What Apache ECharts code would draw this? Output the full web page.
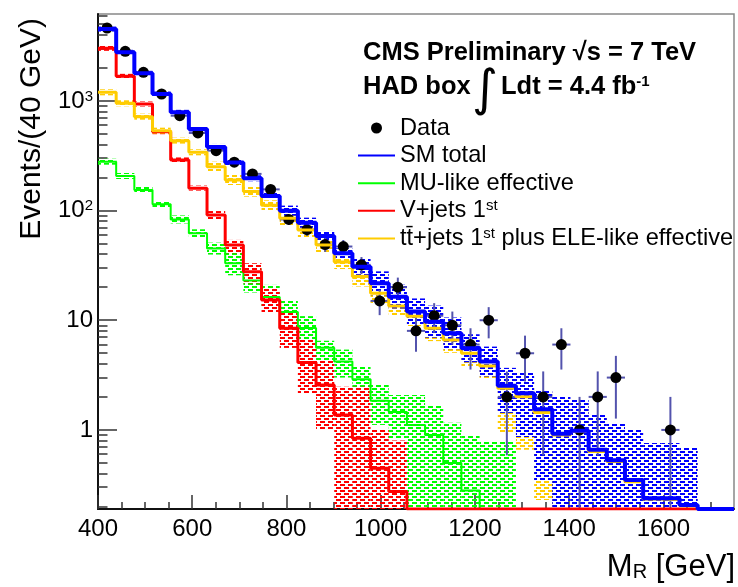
<!DOCTYPE html>
<html>
<head>
<meta charset="UTF-8">
<title>M_R distribution, HAD box</title>
<script src="https://cdn.jsdelivr.net/npm/echarts@6/dist/echarts.min.js"></script>
<style>
  html, body { margin: 0; padding: 0; background: #fff; }
  #chart { width: 738px; height: 587px; }
</style>
</head>
<body>
<div id="chart"></div>
<script>
// 35 bins between 400 and 1750 GeV
const xMin = 400, xMax = 1750, nBins = 35;
const YMIN = 0.19, YMAX = 6200;

const binEdges = [];
for (let k = 0; k <= nBins; k++) binEdges.push(xMin + k * (xMax - xMin) / nBins);
const binCenters = binEdges.slice(0, nBins).map((e, k) => (e + binEdges[k + 1]) / 2);

// tick positions
const xMajor = [400, 600, 800, 1000, 1200, 1400, 1600];
const xMinor = [450, 500, 550, 650, 700, 750, 850, 900, 950, 1050, 1100, 1150,
                1250, 1300, 1350, 1450, 1500, 1550, 1650, 1700];
const yMajor = [1, 10, 100, 1000];
const yMinor = [0.2, 0.3, 0.4, 0.5, 0.6, 0.7, 0.8, 0.9, 2, 3, 4, 5, 6, 7, 8, 9,
                20, 30, 40, 50, 60, 70, 80, 90, 200, 300, 400, 500, 600, 700, 800, 900,
                2000, 3000, 4000, 5000, 6000];

// observed events per bin
const dataCounts = [4620, 2832, 1823, 1156, 733, 510, 352, 276, 216, 156, 83, 67, 49, 47, 32,
                    15, 20, 8, 11, 9, 6, 10, 2, 5, 2, 6, 1, 2, 3, 0, 0, 1, 0, 0, 0];

// SM total
const smTotal = [4520, 2774, 1785, 1156, 787, 554, 380, 274, 197, 136, 99.8, 77.6, 58.7, 40.8, 30.8,
                 21.7, 16.4, 12.0, 9.71, 7.61, 5.55, 4.20, 2.53, 2.16, 1.54, 0.92, 0.98, 0.66, 0.53,
                 0.35, 0.238, 0.238, 0.207, 0, 0];
const smHi = [4764, 2924, 1881, 1218, 829, 584, 405, 292, 210, 145, 111, 86.2, 65.2, 45.3, 36.4,
              27.9, 21.1, 15.8, 13.6, 10.6, 7.45, 5.75, 3.68, 3.31, 2.31, 2.0, 1.88, 1.37, 1.13,
              1.0, 0.76, 0.76, 0.69, 0, 0];
const smLo = [4288, 2632, 1694, 1097, 747, 526, 357, 257, 185, 128, 89.8, 69.8, 52.8, 36.7, 26.0,
              16.9, 12.8, 9.13, 6.94, 5.44, 4.14, 3.07, 1.43, 0.86, 0.35, 0, 0, 0, 0,
              0, 0, 0, 0, 0, 0];

// MU-like effective
const muLike = [279, 207, 154, 114, 83, 62, 45, 33, 23, 16.3, 11.9, 8.5, 5.6, 4.2, 2.9,
                1.84, 1.46, 1.11, 0.90, 0.50, 0.28, 0.15, 0.1, 0, 0, 0, 0, 0, 0,
                0, 0, 0, 0, 0, 0];
const muHi = [297, 220, 164, 121, 90.3, 67.5, 51.0, 42.4, 29.6, 21.0, 15.3, 10.9, 6.5, 5.4, 3.8,
              2.57, 2.08, 2.08, 1.69, 1.16, 0.90, 0.78, 0.78, 0, 0, 0, 0, 0, 0,
              0, 0, 0, 0, 0, 0];
const muLo = [262, 194, 145, 107, 76.3, 57.0, 39.7, 25.7, 17.9, 12.7, 9.25, 6.6, 4.1, 3.0, 2.0,
              1.11, 0.84, 0, 0, 0, 0, 0, 0, 0, 0, 0, 0, 0, 0,
              0, 0, 0, 0, 0, 0];

// V+jets 1st
const vJets = [3015, 1675, 937, 524, 289, 160, 91, 48.6, 27.7, 15.3, 8.45, 4.12, 2.57, 1.37, 0.84,
               0.448, 0.274, 0, 0, 0, 0, 0, 0, 0, 0, 0, 0, 0, 0,
               0, 0, 0, 0, 0, 0];
const vHi = [3178, 1765, 988, 552, 305, 169, 99, 54, 33.1, 19.7, 11.7, 6.61, 4.35, 2.47, 2.47,
             1.0, 0.8, 0, 0, 0, 0, 0, 0, 0, 0, 0, 0, 0, 0,
             0, 0, 0, 0, 0, 0];
const vLo = [2861, 1589, 889, 497, 274, 152, 83.6, 40.8, 21.7, 11.7, 5.59, 2.17, 1.0, 0, 0,
             0, 0, 0, 0, 0, 0, 0, 0, 0, 0, 0, 0, 0, 0,
             0, 0, 0, 0, 0, 0];

// ttbar+jets 1st plus ELE-like effective
const ttJets = [1197, 951, 718, 535, 434, 340, 251, 190, 149, 112, 85, 66.5, 48.6, 34, 25,
                17.6, 13.5, 10.9, 8.45, 6.61, 5.0, 3.83, 2.40, 2.01, 1.44, 0.90, 0.97, 0.634, 0.514,
                0.337, 0.235, 0.231, 0.203, 0, 0];
const ttHi = [1275, 1013, 765, 570, 462, 362, 279, 211, 165, 124, 98.6, 77.1, 56.4, 39.4, 30.8,
              21.6, 16.6, 13.4, 11.1, 8.66, 6.55, 5.02, 3.5, 3.0, 2.2, 1.9, 1.8, 1.3, 1.1,
              0.95, 0.72, 0.72, 0.65, 0, 0];
const ttLo = [1124, 893, 674, 502, 408, 319, 226, 171, 134, 101, 73.3, 57.3, 41.9, 29.3, 20.3,
              14.3, 11.0, 8.86, 6.45, 5.05, 3.82, 2.92, 0.94, 0.66, 0.23, 0, 0, 0, 0,
              0, 0, 0, 0, 0, 0];

const BLUE = '#0000ff', GREEN = '#00ff00', RED = '#ff0000', ORANGE = '#ffcc00';
const ERR = '#5353ad';
const FONT = '"Liberation Sans", Arial, sans-serif';
const ttName = 'tt\u0304+jets 1st plus ELE-like effective';

const clampY = v => Math.max(v, YMIN);

// ROOT-like dashed hatch
function hatch(color) {
  const c = document.createElement('canvas');
  c.width = 8; c.height = 6;
  const ctx = c.getContext('2d');
  ctx.fillStyle = color;
  ctx.fillRect(0, 1, 5, 2);
  ctx.fillRect(4, 4, 5, 2);
  ctx.fillRect(-4, 4, 5, 2);
  return { image: c, repeat: 'repeat' };
}

function stepData(vals) {
  const pts = vals.map((v, k) => [binEdges[k], clampY(v)]);
  pts.push([binEdges[nBins], clampY(vals[nBins - 1])]);
  return pts;
}

function bandSeries(name, lo, hi, color) {
  const fill = hatch(color);
  const data = [];
  hi.forEach((h, k) => { if (h > 0) data.push([binEdges[k], binEdges[k + 1], lo[k], h]); });
  return {
    name: name, type: 'custom', clip: true, silent: true,
    encode: { x: [0, 1], y: 3 },
    data: data,
    renderItem: function (params, api) {
      const p0 = api.coord([api.value(0), clampY(api.value(3))]);
      const p1 = api.coord([api.value(1), clampY(api.value(2))]);
      return {
        type: 'rect',
        shape: { x: p0[0], y: p0[1], width: p1[0] - p0[0], height: p1[1] - p0[1] },
        style: { fill: fill }
      };
    }
  };
}

function histSeries(name, vals, color, width) {
  return {
    name: name, type: 'line', step: 'end', symbol: 'none', showSymbol: false, silent: true,
    data: stepData(vals),
    lineStyle: { color: color, width: width },
    itemStyle: { color: color }
  };
}

const dataPoints = [];
const errData = [];
dataCounts.forEach((n, k) => {
  if (n > 0) {
    dataPoints.push([binCenters[k], n]);
    errData.push([binCenters[k], n, binEdges[k], binEdges[k + 1]]);
  }
});

const chart = echarts.init(document.getElementById('chart'), null, { renderer: 'canvas' });

const noDot = { opacity: 0 };

const option = {
  animation: false,
  backgroundColor: '#fff',
  grid: {
    left: 98, right: 4, top: 14, bottom: 78,
    show: true, borderColor: '#888', borderWidth: 1.5,
    outerBoundsMode: 'none'
  },
  legend: {
    orient: 'vertical', left: 357, top: 116, padding: 0,
    itemWidth: 37, itemHeight: 11, itemGap: 3.6,
    data: [
      { name: 'Data' },
      { name: 'SM total', itemStyle: noDot },
      { name: 'MU-like effective', itemStyle: noDot },
      { name: 'V+jets 1st', itemStyle: noDot },
      { name: ttName, itemStyle: noDot }
    ],
    formatter: name => name.replace(' 1st', ' 1{sup|st}'),
    textStyle: {
      fontFamily: FONT, fontSize: 23.6, color: '#000',
      rich: { sup: { fontFamily: FONT, fontSize: 15, lineHeight: 6, verticalAlign: 'top', color: '#000' } }
    },
    selectedMode: false
  },
  xAxis: [{
    type: 'value', min: xMin, max: xMax, interval: 200, position: 'bottom',
    axisLine: { onZero: false, lineStyle: { color: '#111', width: 2 } },
    axisTick: { inside: true, length: 14, customValues: xMajor, lineStyle: { color: '#333', width: 1.5 } },
    axisLabel: { customValues: xMajor, margin: 8, fontFamily: FONT, fontSize: 24, color: '#000',
      formatter: v => String(v) },
    splitLine: { show: false }
  }, {
    type: 'value', min: xMin, max: xMax, position: 'bottom',
    axisLine: { show: false, onZero: false },
    axisTick: { inside: true, length: 7, customValues: xMinor, lineStyle: { color: '#333', width: 1.5 } },
    axisLabel: { show: false },
    splitLine: { show: false }
  }],
  yAxis: [{
    type: 'log', logBase: 10, min: YMIN, max: YMAX, position: 'left',
    axisLine: { show: true, onZero: false, lineStyle: { color: '#111', width: 2 } },
    axisTick: { show: false },
    axisLabel: { show: false },
    splitLine: { show: false }
  }, {
    type: 'value', min: Math.log10(YMIN), max: Math.log10(YMAX), position: 'left',
    axisLine: { show: false, onZero: false },
    axisTick: { inside: true, length: 19, customValues: yMajor.map(Math.log10), lineStyle: { color: '#333', width: 1.5 } },
    axisLabel: {
      customValues: yMajor.map(Math.log10), margin: 5,
      fontFamily: FONT, fontSize: 24, color: '#000',
      formatter: v => {
        const e = Math.round(v);
        return e === 0 ? '1' : e === 1 ? '10' : '10{sup|' + e + '}';
      },
      rich: { sup: { fontFamily: FONT, fontSize: 15, lineHeight: 6, verticalAlign: 'top', color: '#000' } }
    },
    splitLine: { show: false }
  }, {
    type: 'value', min: Math.log10(YMIN), max: Math.log10(YMAX), position: 'left',
    axisLine: { show: false, onZero: false },
    axisTick: { inside: true, length: 9.5, customValues: yMinor.map(Math.log10), lineStyle: { color: '#333', width: 1.5 } },
    axisLabel: { show: false },
    splitLine: { show: false }
  }],
  graphic: [
    { type: 'text', x: 363, y: 53,
      style: { text: 'CMS Preliminary \u221As = 7 TeV', font: 'bold 25.5px ' + FONT, fill: '#000', align: 'left', verticalAlign: 'middle' } },
    { type: 'text', x: 363, y: 87,
      style: { text: 'HAD box', font: 'bold 25.5px ' + FONT, fill: '#000', align: 'left', verticalAlign: 'middle' } },
    { type: 'text', x: 485, y: 92,
      style: { text: '\u222B', font: '50px "DejaVu Sans", sans-serif', fill: '#000', align: 'center', verticalAlign: 'middle' } },
    { type: 'text', x: 501, y: 87,
      style: { text: 'Ldt = 4.4 fb{sup|-1}', font: 'bold 25.5px ' + FONT, fill: '#000', align: 'left', verticalAlign: 'middle',
        rich: { sup: { font: 'bold 15px ' + FONT, lineHeight: 8, verticalAlign: 'top', fill: '#000' } } } },
    { type: 'text', x: 32, y: 18, rotation: Math.PI / 2,
      style: { text: 'Events/(40 GeV)', font: '30px ' + FONT, fill: '#000', align: 'right', verticalAlign: 'middle' } },
    { type: 'text', x: 735, y: 567,
      style: { text: 'M{sub|R} [GeV]', font: '31px ' + FONT, fill: '#000', align: 'right', verticalAlign: 'middle',
        rich: { sub: { font: '20px ' + FONT, lineHeight: 10, verticalAlign: 'bottom', fill: '#000' } } } }
  ],
  series: [
    bandSeries('MU-like band', muLo, muHi, GREEN),
    bandSeries('V+jets band', vLo, vHi, RED),
    bandSeries('tt band', ttLo, ttHi, ORANGE),
    bandSeries('SM band', smLo, smHi, BLUE),
    histSeries('MU-like effective', muLike, GREEN, 2),
    histSeries('V+jets 1st', vJets, RED, 3),
    histSeries(ttName, ttJets, ORANGE, 3),
    histSeries('SM total', smTotal, BLUE, 4),
    {
      name: 'Data errors', type: 'custom', clip: true, silent: true,
      encode: { x: 0, y: 1 },
      data: errData,
      renderItem: function (params, api) {
        const xc = api.value(0), n = api.value(1);
        const e = Math.sqrt(n);
        const top = api.coord([xc, n + e]);
        const bot = api.coord([xc, clampY(n - e)]);
        const l = api.coord([api.value(2), n]);
        const r = api.coord([api.value(3), n]);
        return {
          type: 'group',
          children: [
            { type: 'line', shape: { x1: top[0], y1: top[1], x2: bot[0], y2: bot[1] }, style: { stroke: ERR, lineWidth: 2 } },
            { type: 'line', shape: { x1: l[0], y1: l[1], x2: r[0], y2: r[1] }, style: { stroke: ERR, lineWidth: 2 } }
          ]
        };
      }
    },
    {
      name: 'Data', type: 'scatter', symbol: 'circle', symbolSize: 11, silent: true,
      data: dataPoints,
      itemStyle: { color: '#000', opacity: 1 }
    }
  ]
};

chart.setOption(option);
</script>
</body>
</html>
